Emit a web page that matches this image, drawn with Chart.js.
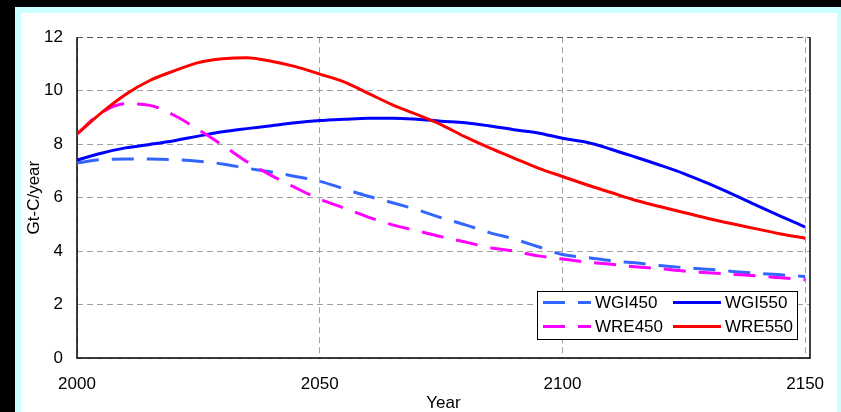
<!DOCTYPE html>
<html>
<head>
<meta charset="utf-8">
<script src="https://cdn.jsdelivr.net/npm/chart.js@4"></script>
<style>
  html, body { margin: 0; padding: 0; background: #000; overflow: hidden; }
  #frame { position: absolute; left: 15px; top: 7px; width: 826px; height: 405px; background: #CCFFFF; }
  #plot { position: absolute; left: 6px; top: 6px; width: 816px; height: 399px; background: #fff; }
  canvas { display: block; }
</style>
</head>
<body>
<div id="frame">
  <div id="plot">
    <canvas id="emissions" width="816" height="399"></canvas>
  </div>
</div>
<script>
// emissions pathways, Gt-C per year, every 5 years 2000-2150
const years = [2000, 2005, 2010, 2015, 2020, 2025, 2030, 2035, 2040, 2045, 2050,
  2055, 2060, 2065, 2070, 2075, 2080, 2085, 2090, 2095, 2100,
  2105, 2110, 2115, 2120, 2125, 2130, 2135, 2140, 2145, 2150];

const wgi450 = [7.30, 7.42, 7.44, 7.44, 7.42, 7.36, 7.26, 7.10, 6.96, 6.79, 6.61,
  6.33, 6.05, 5.81, 5.55, 5.25, 4.98, 4.69, 4.45, 4.16, 3.87,
  3.76, 3.64, 3.56, 3.46, 3.38, 3.32, 3.24, 3.17, 3.11, 3.05];

const wgi550 = [7.40, 7.66, 7.86, 7.99, 8.13, 8.30, 8.46, 8.58, 8.69, 8.80, 8.88,
  8.93, 8.97, 8.97, 8.93, 8.86, 8.80, 8.68, 8.54, 8.42, 8.22,
  8.07, 7.81, 7.52, 7.22, 6.90, 6.53, 6.13, 5.71, 5.30, 4.90];

const wre450 = [8.38, 9.17, 9.51, 9.45, 9.08, 8.54, 7.96, 7.34, 6.83, 6.37, 5.94,
  5.61, 5.27, 4.98, 4.76, 4.54, 4.34, 4.13, 4.00, 3.82, 3.70,
  3.59, 3.51, 3.41, 3.34, 3.25, 3.19, 3.13, 3.07, 3.00, 2.93];

const wre550 = [8.38, 9.17, 9.86, 10.38, 10.74, 11.05, 11.19, 11.23, 11.10, 10.90, 10.62,
  10.33, 9.90, 9.47, 9.11, 8.73, 8.27, 7.86, 7.48, 7.10, 6.79,
  6.48, 6.19, 5.90, 5.67, 5.44, 5.22, 5.02, 4.83, 4.64, 4.48];

const yearTicks = [2000, 2050, 2100, 2150];

const FONT = 'Liberation Sans, Arial, sans-serif';

function series(values) {
  return years.map((x, i) => ({ x: x, y: values[i] }));
}

function lineSet(label, values, color, dashed, order) {
  return {
    label: label,
    data: series(values),
    borderColor: color,
    backgroundColor: color,
    borderWidth: 3,
    borderDash: dashed ? [22, 13] : [],
    pointRadius: 0,
    fill: false,
    cubicInterpolationMode: 'monotone',
    order: order
  };
}

// black frame on left, bottom and right of the plot area
const plotFrame = {
  id: 'plotFrame',
  beforeDatasetsDraw(chart) {
    const { ctx, chartArea: a } = chart;
    ctx.save();
    ctx.strokeStyle = '#000';
    ctx.lineWidth = 1.5;
    ctx.setLineDash([]);
    ctx.beginPath();
    ctx.moveTo(a.left, a.top);
    ctx.lineTo(a.left, a.bottom);
    ctx.lineTo(a.right, a.bottom);
    ctx.lineTo(a.right, a.top);
    ctx.stroke();
    ctx.restore();
  }
};

// boxed two-column legend in the lower right corner
const boxLegend = {
  id: 'boxLegend',
  afterDraw(chart) {
    const { ctx, chartArea: a } = chart;
    const w = 260, h = 48;
    const left = a.right - 13 - w;
    const top = a.bottom - 19 - h;
    ctx.save();
    ctx.fillStyle = '#fff';
    ctx.fillRect(left, top, w, h);
    ctx.strokeStyle = '#000';
    ctx.lineWidth = 1;
    ctx.strokeRect(left + 0.5, top + 0.5, w, h);
    ctx.font = '17px ' + FONT;
    ctx.textBaseline = 'middle';
    ctx.textAlign = 'left';
    chart.data.datasets.forEach((ds, i) => {
      const col = i % 2, row = Math.floor(i / 2);
      const y = top + 11.5 + row * 24;
      const x0 = left + (col ? 136 : 6);
      ctx.strokeStyle = ds.borderColor;
      ctx.lineWidth = 3;
      ctx.setLineDash(ds.borderDash);
      ctx.beginPath();
      ctx.moveTo(x0, y);
      ctx.lineTo(x0 + 48, y);
      ctx.stroke();
      ctx.setLineDash([]);
      ctx.fillStyle = '#000';
      ctx.fillText(ds.label, x0 + 52, y + 1);
    });
    ctx.restore();
  }
};

new Chart(document.getElementById('emissions'), {
  type: 'line',
  data: {
    datasets: [
      lineSet('WGI450', wgi450, '#3366FF', true, 3),
      lineSet('WGI550', wgi550, '#0000FF', false, 2),
      lineSet('WRE450', wre450, '#FF00FF', true, 1),
      lineSet('WRE550', wre550, '#FF0000', false, 0)
    ]
  },
  options: {
    responsive: false,
    animation: false,
    layout: { padding: { left: 0, top: 14, right: 27, bottom: 0 } },
    plugins: {
      legend: { display: false },
      tooltip: { enabled: false }
    },
    scales: {
      x: {
        type: 'linear',
        min: 2000,
        max: 2151,
        afterBuildTicks: (scale) => { scale.ticks = yearTicks.map(v => ({ value: v })); },
        afterFit: (scale) => {
          scale.height = 54;
          scale.paddingLeft = 0;
          scale.paddingRight = 0;
        },
        ticks: {
          color: '#000',
          font: { family: FONT, size: 17 },
          padding: 16,
          maxRotation: 0,
          callback: (v) => String(v)
        },
        grid: {
          drawTicks: false,
          color: '#A0A0A0',
          lineWidth: 1
        },
        border: { display: false, dash: [6, 4] },
        title: {
          display: true,
          text: 'Year',
          color: '#000',
          font: { family: FONT, size: 17, lineHeight: 1 },
          padding: { top: 0, bottom: 0 }
        }
      },
      y: {
        min: 0,
        max: 12,
        afterFit: (scale) => { scale.width = 56; },
        ticks: {
          stepSize: 2,
          color: '#000',
          font: { family: FONT, size: 17 },
          padding: 14
        },
        grid: {
          drawTicks: false,
          color: (c) => (c.tick && c.tick.value === 12 ? '#555555' : '#A0A0A0'),
          lineWidth: 1
        },
        border: { display: false, dash: [6, 4] },
        title: {
          display: true,
          text: 'Gt-C/year',
          color: '#000',
          font: { family: FONT, size: 17, lineHeight: 1 },
          padding: { top: 5, bottom: 0 }
        }
      }
    }
  },
  plugins: [plotFrame, boxLegend]
});
</script>
</body>
</html>
